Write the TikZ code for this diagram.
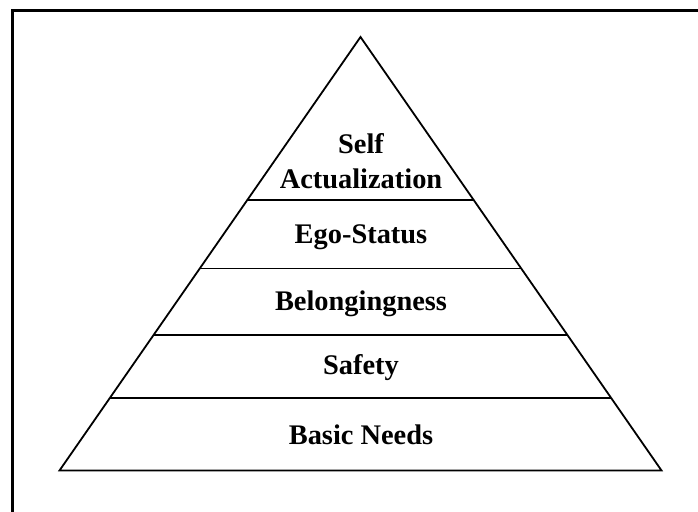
\documentclass[tikz,border=0pt]{standalone}
\usepackage{fontspec}
\setmainfont{Liberation Serif}
\usetikzlibrary{calc}
\begin{document}
\begin{tikzpicture}[x=1bp, y=-1bp, line width=1.8bp]
        \useasboundingbox (0,0) rectangle (698,512);
        % Cornice
        \draw[line width=2.4bp] (12.5,10.5) rectangle (720,530);

        % Piramide
        \coordinate (apex) at (360.5,37);
        \coordinate (bl) at (59.5,470.5);
        \coordinate (br) at (661.5,470.5);
        \draw (bl) -- (apex) -- (br) -- cycle;

        % Livelli
        \draw ($(apex)!0.376!(bl)$) -- ($(apex)!0.376!(br)$);
        \draw ($(apex)!0.534!(bl)$) -- ($(apex)!0.534!(br)$);
        \draw ($(apex)!0.687!(bl)$) -- ($(apex)!0.687!(br)$);
        \draw ($(apex)!0.833!(bl)$) -- ($(apex)!0.833!(br)$);

        % Testi
        \node[font=\fontsize{28.5}{35}\selectfont\bfseries, align=center] (L1) at (361,161) {Self\\Actualization};
        \node[font=\fontsize{28.5}{35}\selectfont\bfseries] (L2) at (361,237) {Ego-Status};
        \node[font=\fontsize{28.5}{35}\selectfont\bfseries] (L3) at (361,304) {Belongingness};
        \node[font=\fontsize{28.5}{35}\selectfont\bfseries] (L4) at (361,368) {Safety};
        \node[font=\fontsize{28.5}{35}\selectfont\bfseries] (L5) at (361,435) {Basic Needs};

    \end{tikzpicture}
\end{document}
